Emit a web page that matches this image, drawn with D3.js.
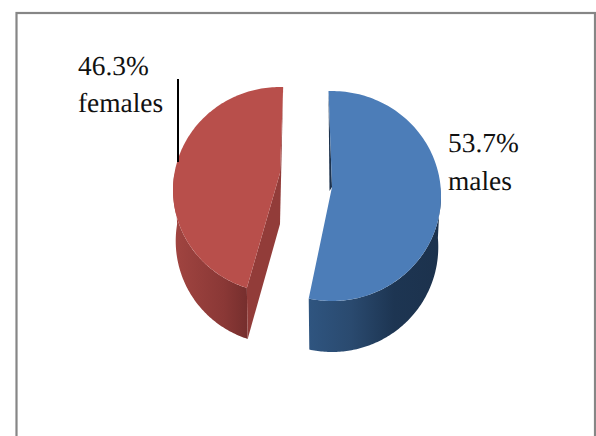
<!DOCTYPE html>
<html>
<head>
<meta charset="utf-8">
<script src="https://cdnjs.cloudflare.com/ajax/libs/d3/7.8.5/d3.min.js"></script>
<style>
  html, body { margin: 0; padding: 0; background: #fff; overflow: hidden; }
  svg { display: block; }
  text { font-family: "Liberation Serif", "Times New Roman", serif; font-size: 27.4px; fill: #111; text-rendering: geometricPrecision; }
</style>
</head>
<body>
<div id="chart"></div>
<script>
// Chart data
var categories = ["males", "females"];
var percents = [53.7, 46.3];

var svgWidth = 596;
var svgHeight = 436;

// Each slice has its own fake 3D view, the original is a perspective pie with exploded slices
var views = {
  males: {
    cx: 332, cy: 187, rx: 108.6, ry: 104.2, k: 0.086, spin: 0,
    depth: 51, shrink: 0.975,
    face: "#4c7db8", cut: "#1c324d",
    wall: ["#2f5580", "#2a4a6f", "#1d3552", "#1c324d"], wallX: [308, 437],
    label: [448, 152]
  },
  females: {
    cx: 280, cy: 173, rx: 105.5, ry: 100.2, k: 0.165, spin: 4,
    depth: 51, shrink: 0.975,
    face: "#b84f4b", cut: "#923c39",
    wall: ["#a04440", "#953e3b", "#8a3836", "#752e2d"], wallX: [176, 248],
    label: [78, 75]
  }
};

var svg = d3.select("#chart")
  .append("svg")
  .attr("width", svgWidth)
  .attr("height", svgHeight);

// Outer frame, runs off the bottom of the page
svg.append("rect")
  .attr("x", 16.5)
  .attr("y", 13)
  .attr("width", 578.5)
  .attr("height", 440)
  .attr("fill", "#fff")
  .attr("stroke", "#868686")
  .attr("stroke-width", 2.2);

var rad = Math.PI / 180;

var pie = d3.pie()
  .sort(null)
  .startAngle(-2 * rad)
  .endAngle(358 * rad);

var slices = pie(percents);
var line = d3.line().curve(d3.curveLinear);
var defs = svg.append("defs");

// project a point on the rim (or the centre when r = 0) to the screen
function project(view, angle, r, down) {
  var a = angle + view.spin * rad;
  var u = -Math.cos(a);
  var w = 1 - view.k * u;
  var x = r * view.rx * Math.sin(a) / w;
  var y = r * view.ry * u / w;
  if (down) {
    x = x * view.shrink;
    y = y + view.depth;
  }
  return [view.cx + x, view.cy + y];
}

function rim(view, start, end, down) {
  return d3.range(0, 121).map(function(i) {
    return project(view, start + (end - start) * i / 120, 1, down);
  });
}

slices.forEach(function(slice, i) {
  var name = categories[i];
  var view = views[name];
  var group = svg.append("g").attr("class", name);

  var gradient = defs.append("linearGradient")
    .attr("id", "wall-" + name)
    .attr("gradientUnits", "userSpaceOnUse")
    .attr("x1", view.wallX[0]).attr("x2", view.wallX[1])
    .attr("y1", 0).attr("y2", 0);
  view.wall.forEach(function(color, j) {
    gradient.append("stop")
      .attr("offset", j / (view.wall.length - 1))
      .attr("stop-color", color);
  });

  var apex = project(view, 0, 0, false);
  var apexDown = project(view, 0, 0, true);
  var startTop = project(view, slice.startAngle, 1, false);
  var startDown = project(view, slice.startAngle, 1, true);
  var endTop = project(view, slice.endAngle, 1, false);

  // outer wall, only the part of the arc facing the viewer
  var wallStart = Math.max(slice.startAngle, (90 - view.spin) * rad);
  var wallEnd = Math.min(slice.endAngle, (270 - view.spin) * rad);
  group.append("path")
    .attr("d", line(rim(view, wallStart, wallEnd, false)
      .concat(rim(view, wallStart, wallEnd, true).reverse())) + "Z")
    .attr("fill", "url(#wall-" + name + ")");

  // cut faces
  if (name === "females") {
    group.append("path")
      .attr("d", line([apex, startTop, startDown, apexDown]) + "Z")
      .attr("fill", view.cut);
    group.append("path")
      .attr("d", line([endTop, apex, apexDown]) + "Z")
      .attr("fill", view.cut);
  } else {
    group.append("path")
      .attr("d", line([startTop, apex, [apex[0] - 2.5, apex[1] + 4]]) + "Z")
      .attr("fill", view.cut);
  }

  // top face
  group.append("path")
    .attr("d", line([apex].concat(rim(view, slice.startAngle, slice.endAngle, false))) + "Z")
    .attr("fill", view.face);

  // label, value on top of the category
  var label = group.append("text")
    .attr("x", view.label[0])
    .attr("y", view.label[1]);
  label.append("tspan")
    .text(percents[i] + "%");
  label.append("tspan")
    .attr("x", view.label[0])
    .attr("dy", name === "males" ? 38 : 37)
    .text(name);
});

// Leader line of the females label
svg.append("line")
  .attr("x1", 178)
  .attr("x2", 178)
  .attr("y1", 79)
  .attr("y2", 162)
  .attr("stroke", "#000")
  .attr("stroke-width", 2);
</script>
</body>
</html>
